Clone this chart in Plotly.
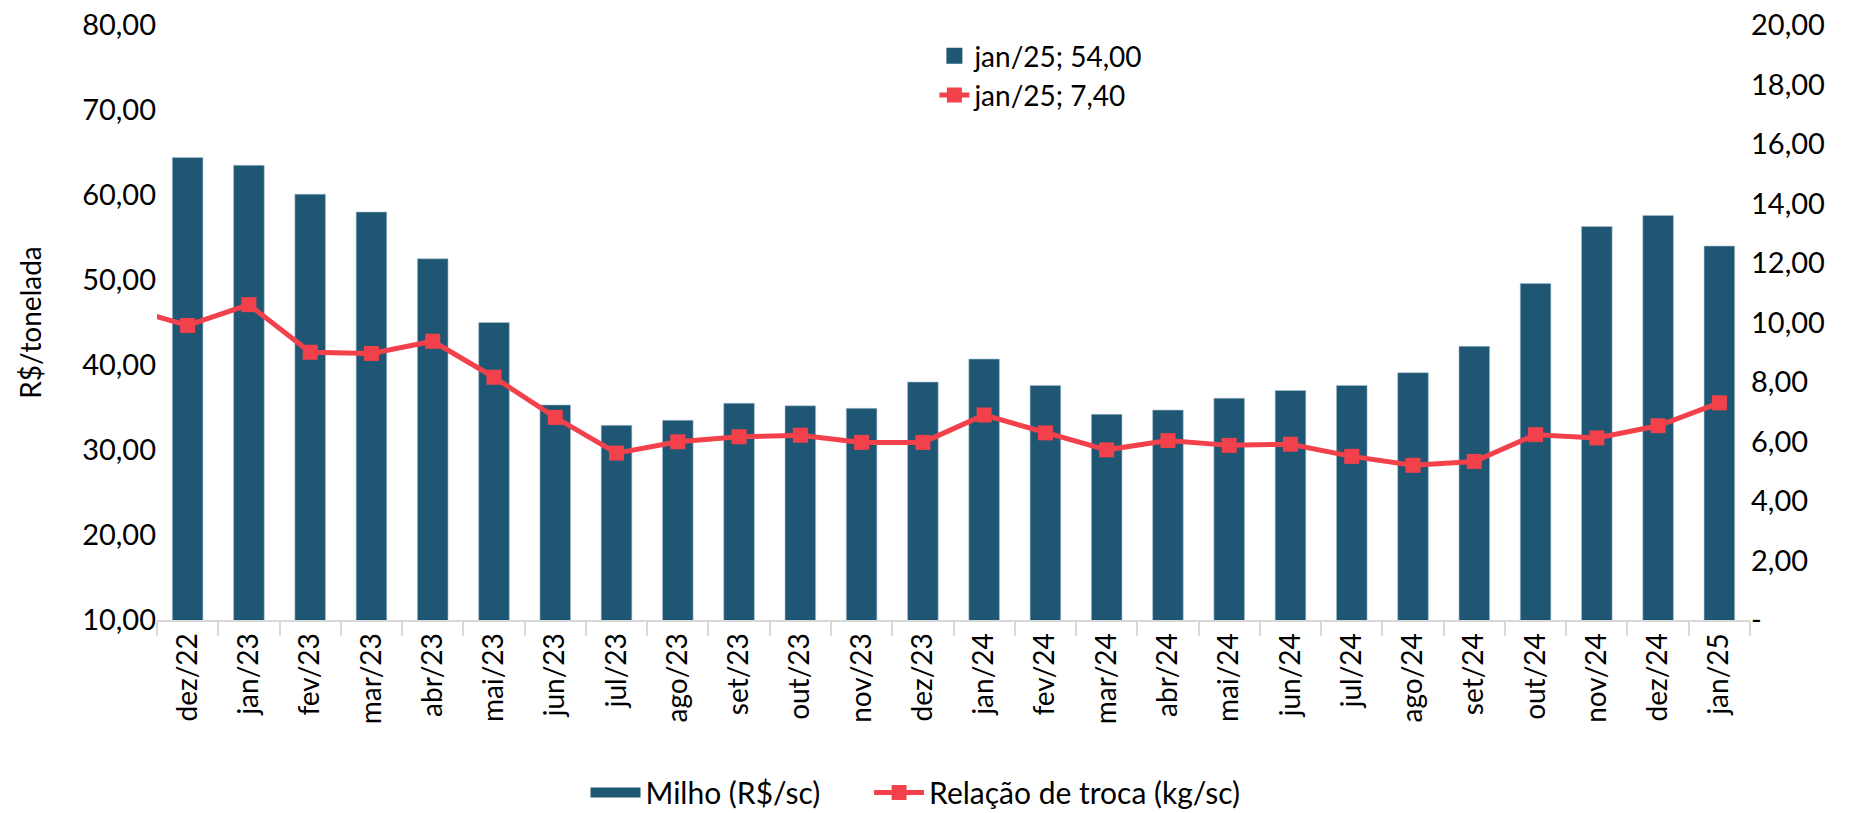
"""Milho (R$/sc) x Relação de troca (kg/sc) - Plotly."""
import plotly.graph_objects as go

FONT = "Lato, 'Open Sans', sans-serif"
BAR_COLOR = "#1F5673"
LINE_COLOR = "#F2414B"
AXIS_GRAY = "#D9D9D9"

# categoria anterior (nov/22) só aparece como trecho cortado da linha
prev_month = "nov/22"
months = ["dez/22", "jan/23", "fev/23", "mar/23", "abr/23", "mai/23", "jun/23",
          "jul/23", "ago/23", "set/23", "out/23", "nov/23", "dez/23", "jan/24",
          "fev/24", "mar/24", "abr/24", "mai/24", "jun/24", "jul/24", "ago/24",
          "set/24", "out/24", "nov/24", "dez/24", "jan/25"]

milho = [64.4, 63.5, 60.1, 58.0, 52.5, 45.0, 35.3, 32.9, 33.5, 35.5, 35.2,
         34.9, 38.0, 40.7, 37.6, 34.2, 34.7, 36.1, 37.0, 37.6, 39.1, 42.2,
         49.6, 56.3, 57.6, 54.0]

relacao_prev = 10.5
relacao = [9.9, 10.6, 9.0, 8.96, 9.37, 8.16, 6.81, 5.61, 5.99, 6.16, 6.21,
           5.97, 5.97, 6.89, 6.29, 5.72, 6.03, 5.87, 5.91, 5.50, 5.20, 5.33,
           6.23, 6.12, 6.53, 7.30]

left_ticks = [10, 20, 30, 40, 50, 60, 70, 80]
right_ticks = [0, 2, 4, 6, 8, 10, 12, 14, 16, 18, 20]
right_text = ["-" if v == 0 else f"{v:.2f}".replace(".", ",") for v in right_ticks]

last_label = months[-1]
last_milho = f"{milho[-1]:.2f}".replace(".", ",")
last_relacao = "7,40"

fig = go.Figure()

# entrada de legenda com chave retangular larga (estilo Excel)
fig.add_trace(go.Scatter(
    x=[None], y=[None], mode="lines", name="Milho (R$/sc)",
    line=dict(color=BAR_COLOR, width=22),
    legend="legend", hoverinfo="skip",
))

fig.add_trace(go.Bar(
    x=months, y=milho, name="Milho (R$/sc)",
    marker_color=BAR_COLOR, marker_line=dict(color="#A9C3D0", width=0.6),
    showlegend=False,
))

fig.add_trace(go.Scatter(
    x=[prev_month] + months, y=[relacao_prev] + relacao,
    name="Relação de troca (kg/sc)", yaxis="y2",
    mode="lines+markers",
    line=dict(color=LINE_COLOR, width=5),
    marker=dict(symbol="square", size=15, color=LINE_COLOR),
    legend="legend3",
))

# chaves dos rótulos de dados (jan/25) no topo do gráfico
fig.add_trace(go.Scatter(
    x=[None], y=[None], mode="markers",
    name=f"{last_label}; {last_milho}",
    marker=dict(symbol="square", size=16, color=BAR_COLOR),
    legend="legend2", hoverinfo="skip",
))
fig.add_trace(go.Scatter(
    x=[None], y=[None], mode="lines+markers", yaxis="y2",
    name=f"{last_label}; {last_relacao}",
    line=dict(color=LINE_COLOR, width=5),
    marker=dict(symbol="square", size=15, color=LINE_COLOR),
    legend="legend2", hoverinfo="skip",
))

bottom_legend = dict(orientation="h", xanchor="left", y=-0.29,
                     yanchor="middle", font=dict(size=30),
                     bgcolor="rgba(0,0,0,0)", itemwidth=50)

fig.update_layout(
    width=1865, height=813,
    font=dict(family=FONT, size=28, color="#000"),
    plot_bgcolor="#fff", paper_bgcolor="#fff",
    margin=dict(l=157, r=115, t=25, b=193, autoexpand=False),
    separators=",.",
    bargap=0.5,
    showlegend=True,
    legend=dict(bottom_legend, x=0.269),
    legend3=dict(bottom_legend, x=0.447),
    legend2=dict(orientation="v", x=0.488, xanchor="left", y=0.99,
                 yanchor="top", font=dict(size=28),
                 bgcolor="rgba(0,0,0,0)", tracegroupgap=6),
    xaxis=dict(
        type="category",
        categoryorder="array", categoryarray=[prev_month] + months,
        range=[0.5, len(months) + 0.5],
        tickangle=-90, tickfont=dict(size=28),
        showline=True, linecolor=AXIS_GRAY, linewidth=2,
        ticks="outside", tickson="boundaries", ticklen=14,
        tickcolor=AXIS_GRAY, tickwidth=2,
        showgrid=False, zeroline=False,
    ),
    yaxis=dict(
        range=[10, 80], tickvals=left_ticks, tickformat=".2f",
        title=dict(text="R$/tonelada", font=dict(size=28), standoff=32),
        showgrid=False, zeroline=False, ticks="", tickfont=dict(size=29),
    ),
    yaxis2=dict(
        overlaying="y", side="right", range=[0, 20],
        tickvals=right_ticks, ticktext=right_text,
        showgrid=False, zeroline=False, ticks="", tickfont=dict(size=29),
    ),
)

# tira a margem padrão do <body> para o gráfico ocupar a janela inteira
fig.write_html("out.html", config={"displayModeBar": False},
               post_script="document.body.style.margin='0';")
